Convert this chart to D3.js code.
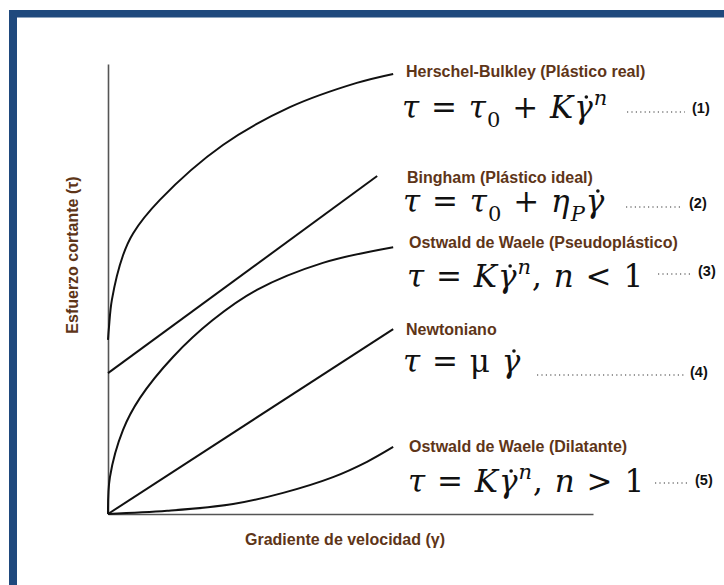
<!DOCTYPE html>
<html lang="es">
<head>
<meta charset="utf-8">
<script src="https://d3js.org/d3.v7.min.js"></script>
<style>
  body { margin: 0; background: #fff; }
  .curva { fill: none; stroke: #111; stroke-width: 2; }
  .eje path { stroke: #555; stroke-width: 1.6; }
  .nombre { font-family: Arial, "Liberation Sans", sans-serif; font-weight: bold; font-size: 16px; fill: #5e3518; }
  .ecuacion { font-family: "DejaVu Serif", serif; font-size: 31px; fill: #111; letter-spacing: 1px; }
  .numero { font-family: Arial, "Liberation Sans", sans-serif; font-weight: bold; font-size: 14.5px; fill: #111; }
  .guia { stroke: #333; stroke-width: 1.2; stroke-dasharray: 1.2 3.2; }
</style>
</head>
<body>
<svg width="724" height="585" id="reologia"></svg>
<script>
// curvas (gradiente 0-100, esfuerzo 0-100)
const herschelX = [0, 0.2, 0.8, 3.1, 5.2, 10.7, 23.7, 37.5, 51.3, 58.8];
const herschelY = [38.7, 41.5, 47.6, 57.5, 62.4, 69.8, 82.0, 90.4, 95.8, 97.8];
const binghamX = [0, 55.5];
const binghamY = [31.3, 75.1];
const pseudoX = [0, 0.4, 3.1, 6.6, 13.4, 21.6, 30.7, 44.3, 58.8];
const pseudoY = [0, 8.2, 18.7, 25.8, 34.9, 43.1, 49.8, 55.8, 59.3];
const newtonX = [0, 58.8];
const newtonY = [0, 41.1];
const dilatanteX = [0, 12.2, 25.8, 36.1, 46.4, 53.4, 58.8];
const dilatanteY = [0, 0.7, 2.2, 4.7, 8.2, 11.6, 14.9];

const nombres = ["Herschel-Bulkley (Plástico real)", "Bingham (Plástico ideal)",
  "Ostwald de Waele (Pseudoplástico)", "Newtoniano", "Ostwald de Waele (Dilatante)"];
const numeros = ["(1)", "(2)", "(3)", "(4)", "(5)"];
// trozos de cada ecuacion: i = cursiva, r = recta, sub / sup, g = gamma con punto
const ecuaciones = [
  [["τ", "i"], [" = ", "r"], ["τ", "i"], ["0", "sub"], [" + ", "r"], ["K", "i"], ["γ", "g"], ["n", "sup"]],
  [["τ", "i"], [" = ", "r"], ["τ", "i"], ["0", "sub"], [" + ", "r"], ["η", "i"], ["P", "sub"], ["γ", "g"]],
  [["τ", "i"], [" = ", "r"], ["K", "i"], ["γ", "g"], ["n", "sup"], [", ", "r"], ["n", "i"], [" < 1", "r"]],
  [["τ", "i"], [" = ", "r"], ["μ ", "r"], ["γ", "g"]],
  [["τ", "i"], [" = ", "r"], ["K", "i"], ["γ", "g"], ["n", "sup"], [", ", "r"], ["n", "i"], [" > 1", "r"]]
];
const titulos = { x: "Gradiente de velocidad (γ)", y: "Esfuerzo cortante (τ)" };

// posicion de los textos a la derecha
const filas = [
  { ny: 77, ey: 118, gx: [627, 685], gy: 112, kx: 692, ky: 113 },
  { ny: 183, ey: 212, gx: [626, 682], gy: 207, kx: 689, ky: 208 },
  { ny: 248, ey: 287, gx: [658, 690], gy: 274, kx: 698, ky: 276 },
  { ny: 335, ey: 372, gx: [537, 685], gy: 375, kx: 690, ky: 377 },
  { ny: 452, ey: 492, gx: [655, 688], gy: 483, kx: 695, ky: 485 }
];
const nombreX = [406, 407, 409, 406, 409];
const ecX = [402, 403, 407, 403, 408];

const svg = d3.select("#reologia");

// marco azul
svg.append("rect").attr("x", 9).attr("y", 10).attr("width", 715).attr("height", 7.5).attr("fill", "#1f497d");
svg.append("rect").attr("x", 9).attr("y", 10).attr("width", 8).attr("height", 575).attr("fill", "#1f497d");

var x = d3.scaleLinear().domain([0, 100]).range([108, 593]);
var y = d3.scaleLinear().domain([0, 100]).range([514, 64]);

svg.append("g").attr("class", "eje")
  .attr("transform", "translate(0,514)")
  .call(d3.axisBottom(x).ticks(0).tickSizeOuter(0));
svg.append("g").attr("class", "eje")
  .attr("transform", "translate(108,0)")
  .call(d3.axisLeft(y).ticks(0).tickSizeOuter(0));

var linea = d3.line()
  .x(d => x(d[0]))
  .y(d => y(d[1]))
  .curve(d3.curveCatmullRom.alpha(0.5));

[[herschelX, herschelY], [binghamX, binghamY], [pseudoX, pseudoY], [newtonX, newtonY], [dilatanteX, dilatanteY]]
  .forEach(c => {
    svg.append("path")
      .attr("class", "curva")
      .attr("d", linea(d3.zip(c[0], c[1])));
  });

// nombres, ecuaciones y numeros
filas.forEach((f, i) => {
  svg.append("text").attr("class", "nombre")
    .attr("x", nombreX[i]).attr("y", f.ny).text(nombres[i]);

  var t = svg.append("text").attr("class", "ecuacion")
    .attr("x", ecX[i]).attr("y", f.ey).attr("xml:space", "preserve");
  var desp = 0;
  var gammas = [];
  ecuaciones[i].forEach(p => {
    var ts = t.append("tspan").text(p[0]);
    var nuevo = p[1] == "sub" ? 9 : p[1] == "sup" ? -13 : 0;
    ts.attr("dy", nuevo - desp);
    desp = nuevo;
    if (p[1] == "sub" || p[1] == "sup") ts.attr("font-size", 21);
    if (p[1] == "sub" && p[0] == "0") ts.attr("font-style", "normal");
    else if (p[1] != "r") ts.attr("font-style", "italic");
    if (p[1] == "g") gammas.push(ts);
  });

  // punto de la derivada sobre gamma
  gammas.forEach(g => {
    var e = g.node().getExtentOfChar(0);
    svg.append("circle")
      .attr("cx", e.x + e.width * 0.62)
      .attr("cy", f.ey - 21)
      .attr("r", 1.8)
      .attr("fill", "#111");
  });

  svg.append("line").attr("class", "guia")
    .attr("x1", f.gx[0]).attr("x2", f.gx[1]).attr("y1", f.gy).attr("y2", f.gy);

  svg.append("text").attr("class", "numero")
    .attr("x", f.kx).attr("y", f.ky).text(numeros[i]);
});

// titulos de los ejes
svg.append("text").attr("class", "nombre")
  .attr("x", 345).attr("y", 545).attr("text-anchor", "middle").text(titulos.x);
svg.append("text").attr("class", "nombre")
  .attr("transform", "translate(78,255) rotate(-90)")
  .attr("text-anchor", "middle").text(titulos.y);
</script>
</body>
</html>
